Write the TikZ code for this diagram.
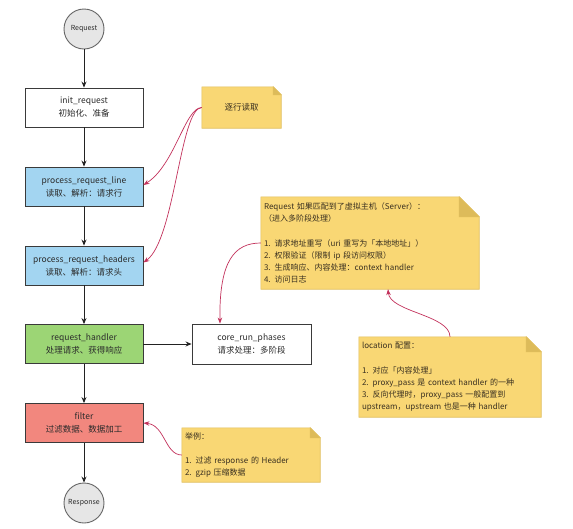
\documentclass[tikz,border=0pt]{standalone}
\usepackage{fontspec}
\setmainfont{Noto Sans CJK SC}
\usetikzlibrary{arrows.meta,backgrounds}
\definecolor{boxline}{HTML}{3A3A3A}
\definecolor{textc}{HTML}{2B2B2B}
\definecolor{bluefill}{HTML}{A3D5F1}
\definecolor{greenfill}{HTML}{9CD575}
\definecolor{redfill}{HTML}{F2877E}
\definecolor{circfill}{HTML}{E6E6E6}
\definecolor{notefill}{HTML}{F9D774}
\definecolor{noteline}{HTML}{E0BE5C}
\definecolor{notefold}{HTML}{DDBB5A}
\definecolor{notetext}{HTML}{3A3020}
\definecolor{redc}{HTML}{C3325C}
\definecolor{arrowc}{HTML}{222222}
\newcommand\drawnote[2]{%
  \filldraw[fill=notefill, draw=noteline, line width=0.6pt]
    (#1.north west) -- ([xshift=-#2pt]#1.north east) -- ([yshift=-#2pt]#1.north east)
    -- (#1.south east) -- (#1.south west) -- cycle;
  \filldraw[fill=notefold, draw=noteline, line width=0.6pt]
    ([xshift=-#2pt]#1.north east) -- ([xshift=-#2pt, yshift=-#2pt]#1.north east)
    -- ([yshift=-#2pt]#1.north east) -- cycle;}
\begin{document}
\begin{tikzpicture}[x=1pt,y=-1pt,
  box/.style={draw=boxline, line width=0.9pt, minimum width=118pt, minimum height=39pt,
    inner sep=0pt, align=center, font=\fontsize{8.5}{13}\selectfont, text=textc},
  circ/.style={circle, draw=gray!80!black, fill=circfill, minimum size=40pt, inner sep=0pt,
    font=\fontsize{7}{8}\selectfont, line width=0.9pt, text=textc},
  flow/.style={-{Stealth[length=6pt,width=5pt]}, line width=0.8pt, draw=arrowc},
  notebox/.style={inner xsep=3pt, inner ysep=0pt, font=\fontsize{8}{12.2}\selectfont,
    text=notetext, align=left},
  redarrow/.style={-{Stealth[length=6pt,width=4.5pt]}, draw=redc, line width=0.7pt}]
\useasboundingbox (0,0) rectangle (573,528);

\node[circ] (req) at (84,29) {Request};
\node[box] (init) at (84,107.5) {init\_request\\初始化、准备};
\node[box, fill=bluefill] (prl) at (84,186.5) {process\_request\_line\\读取、解析：请求行};
\node[box, fill=bluefill] (prh) at (84,265.5) {process\_request\_headers\\读取、解析：请求头};
\node[box, fill=greenfill] (rh) at (84,344) {request\_handler\\处理请求、获得响应};
\node[box, fill=redfill] (flt) at (84,423) {filter\\过滤数据、数据加工};
\node[circ] (resp) at (84,503) {Response};
\node[box, minimum width=119pt, minimum height=40pt] (core) at (251.5,344) {core\_run\_phases\\请求处理：多阶段};

\node[notebox, text width=73pt, minimum height=41pt, align=center, font=\fontsize{8.5}{12}\selectfont] (n1) at (241.5,107.5) {逐行读取};
\node[notebox, text width=212pt, minimum height=92pt] (bn) at (370,243) {Request 如果匹配到了虚拟主机（Server）：\\（进入多阶段处理）\\[12.2pt]1. 请求地址重写（uri 重写为「本地地址」）\\2. 权限验证（限制 ip 段访问权限）\\3. 生成响应、内容处理：context handler\\4. 访问日志};
\node[notebox, text width=176pt, minimum height=80pt] (loc) at (450,377) {location 配置：\\[12.2pt]1. 对应「内容处理」\\2. proxy\_pass 是 context handler 的一种\\3. 反向代理时，proxy\_pass 一般配置到\\upstream，upstream 也是一种 handler};
\node[notebox, text width=132pt, minimum height=54pt] (ex) at (251,455) {举例：\\[12.2pt]1. 过滤 response 的 Header\\2. gzip 压缩数据};

\begin{scope}[on background layer]
\fill[white] (0,0) rectangle (573,528);
\drawnote{n1}{8}
\drawnote{bn}{20}
\drawnote{loc}{15}
\drawnote{ex}{10}
\end{scope}

\draw[flow] (req) -- (init);
\draw[flow] (init) -- (prl);
\draw[flow] (prl) -- (prh);
\draw[flow] (prh) -- (rh);
\draw[flow] (rh) -- (flt);
\draw[flow] (flt) -- (resp);
\draw[flow] (rh) -- (core);

\draw[redarrow] (n1.west) .. controls (185,107.5) and (175,165) .. ([yshift=1.5pt]prl.east);
\draw[redarrow] (n1.west) .. controls (180,107.5) and (175,240) .. ([yshift=3pt]prh.east);
\draw[redarrow] (bn.west) .. controls (235,243) and (219,260) .. ([xshift=-31.5pt]core.north);
\draw[redarrow] (loc.north) .. controls (450,315) and (390,312) .. ([xshift=18pt]bn.south);
\draw[redarrow] (ex.west) .. controls (165,455) and (165,425) .. (flt.east);
\end{tikzpicture}
\end{document}
